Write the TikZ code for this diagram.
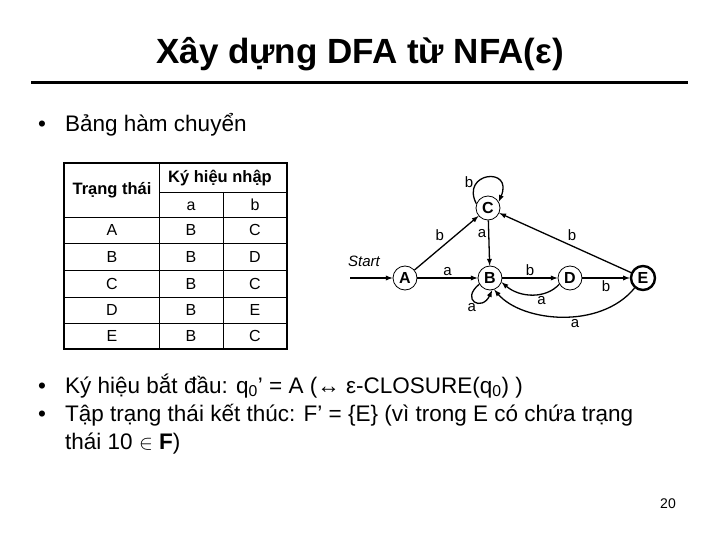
\documentclass[tikz,border=0pt]{standalone}
\usepackage{fontspec}
\setmainfont{Liberation Sans}
\usetikzlibrary{arrows,positioning}

\begin{document}
\begin{tikzpicture}[
    x=1pt, y=-1pt,
    state/.style={
        circle,
        draw,
        line width=0.8pt,
        minimum size=24pt,
        inner sep=0pt,
        font=\fontsize{16}{18}\selectfont\bfseries
    },
    accept/.style={
        state,
        line width=2.4pt
    },
    edge/.style={
        -latex,
        line width=1.3pt
    },
    lbl/.style={
        font=\fontsize{15}{17}\selectfont,
        inner sep=2pt
    },
    cell/.style={
        font=\fontsize{16}{18}\selectfont,
        inner sep=0pt
    },
    head/.style={
        font=\fontsize{16.5}{18}\selectfont\bfseries,
        inner sep=0pt
    },
    bodytext/.style={
        anchor=base west,
        font=\fontsize{22.5}{27}\selectfont,
        inner sep=0pt
    }
]

\useasboundingbox[fill=white] (0,0) rectangle (720,540);

% Title
\node[anchor=base, font=\fontsize{35}{40}\selectfont\bfseries] (title) at (360,64) {Xây dựng DFA từ NFA(ε)};
\draw[line width=3pt] (31,83) -- (688,83);

% Bullet: transition table
\node[bodytext] (dot1) at (38,132) {•};
\node[bodytext] (tableline) at (65,132) {Bảng hàm chuyển};

% Table grid
\draw[line width=2pt] (64,163) rectangle (287,349);
\draw[line width=0.8pt] (159,163) -- (159,349);
\draw[line width=0.8pt] (223,192) -- (223,349);
\draw[line width=0.8pt] (159,192) -- (287,192);
\draw[line width=0.8pt] (64,217) -- (287,217);
\draw[line width=0.8pt] (64,243) -- (287,243);
\draw[line width=0.8pt] (64,270) -- (287,270);
\draw[line width=0.8pt] (64,297) -- (287,297);
\draw[line width=0.8pt] (64,323) -- (287,323);

% Table header
\node[head] (hstate) at (112,190) {Trạng thái};
\node[head] (hinput) at (220,178) {Ký hiệu nhập};
\node[cell, anchor=base] (ha) at (191,211) {a};
\node[cell, anchor=base] (hb) at (255,211) {b};

% Table rows
\node[cell] (rA) at (112,230) {A};
\node[cell] (rAa) at (191,230) {B};
\node[cell] (rAb) at (255,230) {C};
\node[cell] (rB) at (112,257) {B};
\node[cell] (rBa) at (191,257) {B};
\node[cell] (rBb) at (255,257) {D};
\node[cell] (rC) at (112,284) {C};
\node[cell] (rCa) at (191,284) {B};
\node[cell] (rCb) at (255,284) {C};
\node[cell] (rD) at (112,310) {D};
\node[cell] (rDa) at (191,310) {B};
\node[cell] (rDb) at (255,310) {E};
\node[cell] (rE) at (112,336) {E};
\node[cell] (rEa) at (191,336) {B};
\node[cell] (rEb) at (255,336) {C};

% DFA states
\node[state] (A) at (405,278) {A};
\node[state] (B) at (490,278) {B};
\node[state] (C) at (488,208) {C};
\node[state] (D) at (570,278) {D};
\node[accept] (E) at (643,278) {E};
\coordinate (start) at (350,278);
\node[lbl, font=\fontsize{15}{17}\selectfont\itshape] (startlbl) at (364,261) {Start};

% Transitions
\draw[edge] (start) -- (A);
\draw[edge] (A) -- node[lbl, above] {a} (B);
\draw[edge] (A) -- node[lbl, above left] {b} (C);
\draw[edge] (C) -- node[lbl, left, pos=0.3] {a} (B);
\draw[edge] (E) -- node[lbl, above right] {b} (C);
\draw[edge] (B) -- node[lbl, above] {b} (D);
\draw[edge] (D) -- node[lbl, below] {b} (E);
\draw[edge] (C.160) .. controls (460,172) and (514,166) .. node[lbl, pos=0.2, above left, inner sep=0pt] {b} (C.30);
\draw[edge] (B.210) .. controls (460,300) and (482,312) .. node[lbl, pos=0.6, below left, inner sep=1pt] {a} (B.280);
\draw[edge] (D.210) .. controls (546,299) and (520,298) .. node[lbl, below, pos=0.35] {a} (B.-20);
\draw[edge] (E.230) .. controls (600,330) and (522,322) .. node[lbl, below, pos=0.42] {a} (B.-70);

% Bullets: start and final states
\node[bodytext] (dot2) at (38,393) {•};
\node[bodytext] (startline) at (65,393) {Ký hiệu bắt đầu: q\textsubscript{0}’ = A (↔ ε-CLOSURE(q\textsubscript{0}) )};
\node[bodytext] (dot3) at (38,421) {•};
\node[bodytext] (finalline) at (65,421) {Tập trạng thái kết thúc: F’ = \{E\} (vì trong E có chứa trạng};
\node[bodytext] (finalline2) at (65,449) {thái 10 $\in$ \textbf{F})};

% Page number
\node[font=\fontsize{14}{16}\selectfont] (pagenum) at (668,504) {20};

\end{tikzpicture}
\end{document}
